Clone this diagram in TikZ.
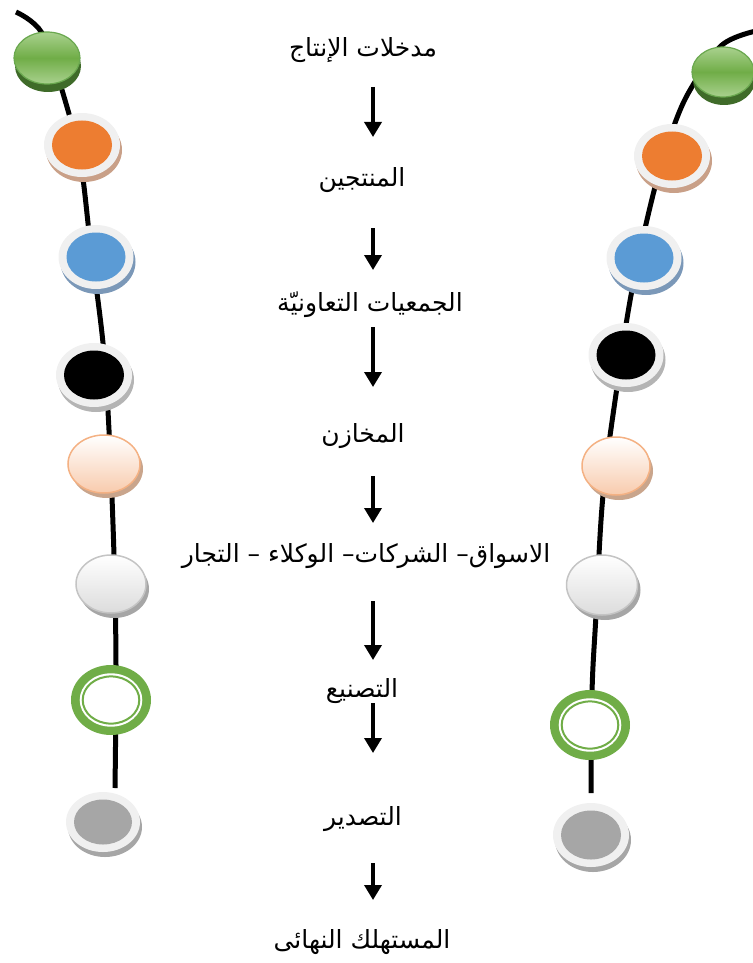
\documentclass[tikz,border=0pt]{standalone}
\usepackage{fontspec}
\usetikzlibrary{arrows.meta}
\TeXXeTstate=1
\newfontfamily\arabicfont[Script=Arabic]{DejaVu Sans}
\definecolor{cOrange}{HTML}{ED7D31}
\definecolor{cOrangeSh}{HTML}{C9A088}
\definecolor{cBlue}{HTML}{5B9BD5}
\definecolor{cBlueSh}{HTML}{7B98B8}
\definecolor{cGreen}{HTML}{70AD47}
\definecolor{cGreenLt}{HTML}{A9D18E}
\definecolor{cGreenDk}{HTML}{3F6B29}
\definecolor{cGreenEdge}{HTML}{6AA84F}
\definecolor{cGray}{HTML}{A6A6A6}
\definecolor{cGraySh}{HTML}{B4B4B4}
\definecolor{cRing}{HTML}{F0F0F0}
\definecolor{cPeach}{HTML}{F8CBAD}
\definecolor{cPeachEdge}{HTML}{F4B183}
\definecolor{cPeachSh}{HTML}{C9A58C}
\definecolor{cWhiteBot}{HTML}{DCDCDC}
\definecolor{cWhiteEdge}{HTML}{C4C4C4}
\newcommand\ringbead[6]{%
  \fill[#4] (#1+2,#2+5) ellipse[x radius=#5pt, y radius=#6pt];
  \fill[cRing] (#1,#2) ellipse[x radius=#5pt, y radius=#6pt];
  \fill[#3] (#1,#2) ellipse[x radius=#5pt-8pt, y radius=#6pt-7.5pt];
}
\newcommand\glossbead[4]{%
  \fill[cGreenDk] (#1+1,#2+8) ellipse[x radius=#3pt, y radius=#4pt];
  \shadedraw[top color=cGreenLt, bottom color=cGreenLt, middle color=cGreen, draw=cGreenEdge, line width=1.2pt] (#1,#2) ellipse[x radius=#3pt, y radius=#4pt];
}
\newcommand\softbead[7]{% x y rx ry bottomcolor edge shadow
  \fill[#7] (#1+3,#2+5) ellipse[x radius=#3pt, y radius=#4pt];
  \shadedraw[top color=white, bottom color=#5, draw=#6, line width=1.5pt] (#1,#2) ellipse[x radius=#3pt, y radius=#4pt];
}
\newcommand\greenring[2]{%
  \fill[cGreen] (#1,#2) ellipse[x radius=40pt, y radius=35pt];
  \fill[white] (#1,#2) ellipse[x radius=31.3pt, y radius=26.7pt];
  \draw[cGreen, line width=2pt] (#1,#2) ellipse[x radius=28.3pt, y radius=23.6pt];
}
\tikzset{
  lbl/.style={font=\arabicfont\fontsize{25}{29}\selectfont, anchor=base, inner sep=0pt},
  arr/.style={line width=3.5pt, -{Triangle[width=17pt,length=15pt]}},
  chainline/.style={line width=5pt, black},
}
\begin{document}
\begin{tikzpicture}[x=1pt, y=-1pt]
\useasboundingbox (0,0) rectangle (752,963);
% chains
\draw[chainline] plot[smooth, tension=0.6] coordinates {(16,12) (42,33) (62,90) (80,160) (90,240) (103,343) (109,430) (114,555) (116,665) (115,788)};
\draw[chainline] plot[smooth, tension=0.6] coordinates {(756,31) (722,45) (693,85) (675,123) (655,187) (632,290) (617,387) (603,495) (596,615) (592,692) (591,793)};
% left beads
\glossbead{47}{58}{33}{26}
\ringbead{82}{145}{cOrange}{cOrangeSh}{38}{32}
\ringbead{96}{257}{cBlue}{cBlueSh}{37.5}{32}
\ringbead{94}{375}{black}{cGraySh}{38}{32}
\softbead{104}{464}{36}{29}{cPeach}{cPeachEdge}{cPeachSh}
\softbead{111}{584}{35}{29}{cWhiteBot}{cWhiteEdge}{cGray}
\greenring{111}{700}
\ringbead{103}{822}{cGray}{cGray}{37}{30}
% right beads
\glossbead{723}{72}{31}{25}
\ringbead{672}{156}{cOrange}{cOrangeSh}{38}{32}
\ringbead{644}{258}{cBlue}{cBlueSh}{37.5}{32}
\ringbead{626}{355}{black}{cGraySh}{37.5}{32}
\softbead{616}{466}{34}{29}{cPeach}{cPeachEdge}{cPeachSh}
\softbead{602}{585}{35.5}{30}{cWhiteBot}{cWhiteEdge}{cGray}
\greenring{590}{725}
\ringbead{591}{835}{cGray}{cGray}{38}{32}
% labels
\node[lbl] (t1) at (363,57) {\beginR مدخلات الإنتاج\endR};
\node[lbl] (t2) at (362,186) {\beginR المنتجين\endR};
\node[lbl] (t3) at (370,311) {\beginR الجمعيات التعاونيّة\endR};
\node[lbl] (t4) at (363,442) {\beginR المخازن\endR};
\node[lbl] (t5) at (366,562) {\beginR الاسواق– الشركات– الوكلاء – التجار\endR};
\node[lbl] (t6) at (362,697) {\beginR التصنيع\endR};
\node[lbl] (t7) at (363,825) {\beginR التصدير\endR};
\node[lbl] (t8) at (362,948) {\beginR المستهلك النهائى\endR};
% arrows
\coordinate (a1s) at (373,87);  \coordinate (a1e) at (373,137);
\coordinate (a2s) at (373,228); \coordinate (a2e) at (373,270);
\coordinate (a3s) at (373,327); \coordinate (a3e) at (373,387);
\coordinate (a4s) at (373,476); \coordinate (a4e) at (373,523);
\coordinate (a5s) at (373,601); \coordinate (a5e) at (373,660);
\coordinate (a6s) at (373,703); \coordinate (a6e) at (373,753);
\coordinate (a7s) at (373,863); \coordinate (a7e) at (373,900);
\foreach \i in {1,...,7} { \draw[arr] (a\i s) -- (a\i e); }
\end{tikzpicture}
\end{document}
